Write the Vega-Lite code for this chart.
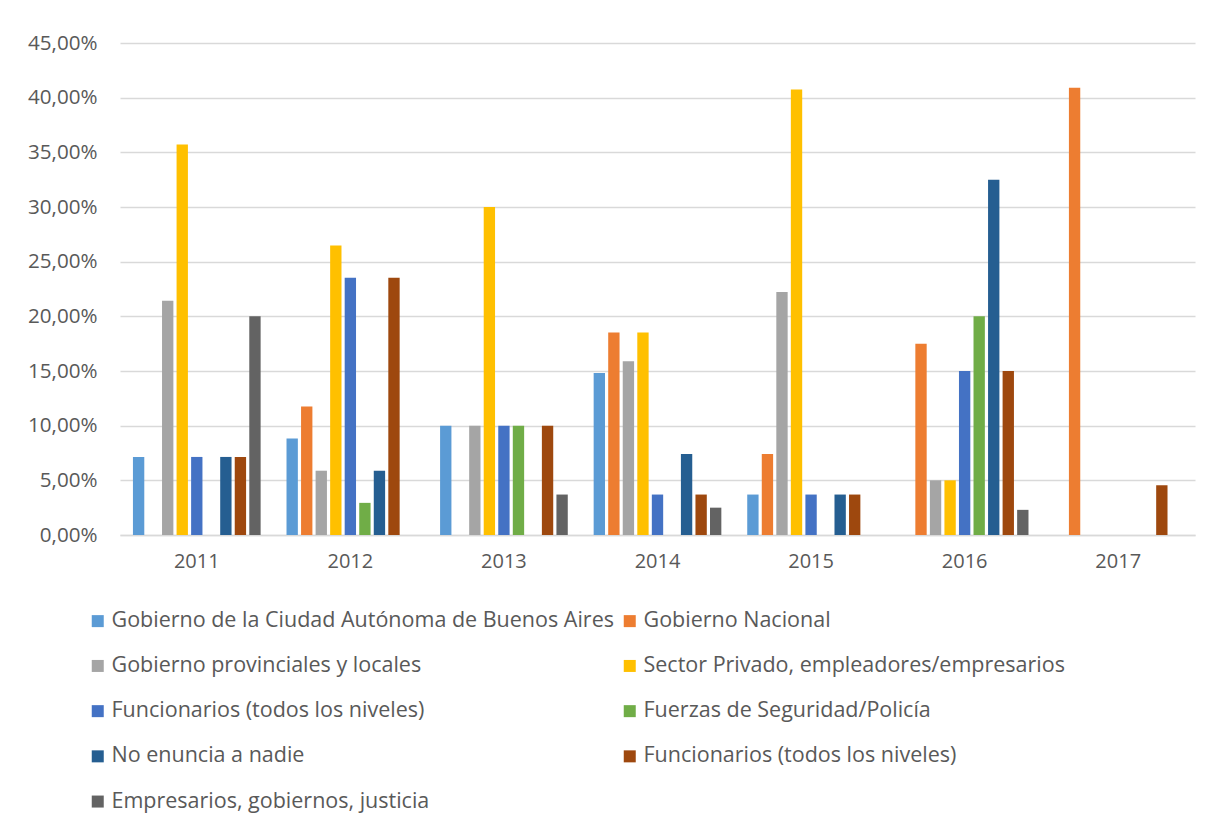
{
  "$schema": "https://vega.github.io/schema/vega-lite/v6.json",
  "width": 1075,
  "height": 492,
  "autosize": {"type": "none"},
  "padding": {"left": 120, "top": 43, "right": 16, "bottom": 291},
  "background": "white",
  "config": {
    "locale": {"number": {"decimal": ",", "thousands": ".", "grouping": [3], "currency": ["$", ""]}},
    "font": "Open Sans",
    "view": {"stroke": null},
    "legend": {"labelColor": "#595959", "labelFont": "Open Sans", "labelFontSize": 21.5}
  },
  "data": {
    "values": [
      {"year": "2011", "k": 1, "serie": "Gobierno de la Ciudad Autónoma de Buenos Aires", "v": 0.0714},
      {"year": "2011", "k": 2, "serie": "Gobierno Nacional", "v": 0},
      {"year": "2011", "k": 3, "serie": "Gobierno provinciales y locales", "v": 0.2143},
      {"year": "2011", "k": 4, "serie": "Sector Privado, empleadores/empresarios", "v": 0.3571},
      {"year": "2011", "k": 5, "serie": "Funcionarios (todos los niveles)", "v": 0.0714},
      {"year": "2011", "k": 6, "serie": "Fuerzas de Seguridad/Policía", "v": 0},
      {"year": "2011", "k": 7, "serie": "No enuncia a nadie", "v": 0.0714},
      {"year": "2011", "k": 8, "serie": "Funcionarios (todos los niveles)", "v": 0.0714},
      {"year": "2011", "k": 9, "serie": "Empresarios, gobiernos, justicia", "v": 0.20},
      {"year": "2012", "k": 1, "serie": "Gobierno de la Ciudad Autónoma de Buenos Aires", "v": 0.0882},
      {"year": "2012", "k": 2, "serie": "Gobierno Nacional", "v": 0.1176},
      {"year": "2012", "k": 3, "serie": "Gobierno provinciales y locales", "v": 0.0588},
      {"year": "2012", "k": 4, "serie": "Sector Privado, empleadores/empresarios", "v": 0.2647},
      {"year": "2012", "k": 5, "serie": "Funcionarios (todos los niveles)", "v": 0.2353},
      {"year": "2012", "k": 6, "serie": "Fuerzas de Seguridad/Policía", "v": 0.0294},
      {"year": "2012", "k": 7, "serie": "No enuncia a nadie", "v": 0.0588},
      {"year": "2012", "k": 8, "serie": "Funcionarios (todos los niveles)", "v": 0.2353},
      {"year": "2012", "k": 9, "serie": "Empresarios, gobiernos, justicia", "v": 0},
      {"year": "2013", "k": 1, "serie": "Gobierno de la Ciudad Autónoma de Buenos Aires", "v": 0.10},
      {"year": "2013", "k": 2, "serie": "Gobierno Nacional", "v": 0},
      {"year": "2013", "k": 3, "serie": "Gobierno provinciales y locales", "v": 0.10},
      {"year": "2013", "k": 4, "serie": "Sector Privado, empleadores/empresarios", "v": 0.30},
      {"year": "2013", "k": 5, "serie": "Funcionarios (todos los niveles)", "v": 0.10},
      {"year": "2013", "k": 6, "serie": "Fuerzas de Seguridad/Policía", "v": 0.10},
      {"year": "2013", "k": 7, "serie": "No enuncia a nadie", "v": 0},
      {"year": "2013", "k": 8, "serie": "Funcionarios (todos los niveles)", "v": 0.10},
      {"year": "2013", "k": 9, "serie": "Empresarios, gobiernos, justicia", "v": 0.037},
      {"year": "2014", "k": 1, "serie": "Gobierno de la Ciudad Autónoma de Buenos Aires", "v": 0.1481},
      {"year": "2014", "k": 2, "serie": "Gobierno Nacional", "v": 0.1852},
      {"year": "2014", "k": 3, "serie": "Gobierno provinciales y locales", "v": 0.159},
      {"year": "2014", "k": 4, "serie": "Sector Privado, empleadores/empresarios", "v": 0.1852},
      {"year": "2014", "k": 5, "serie": "Funcionarios (todos los niveles)", "v": 0.037},
      {"year": "2014", "k": 6, "serie": "Fuerzas de Seguridad/Policía", "v": 0},
      {"year": "2014", "k": 7, "serie": "No enuncia a nadie", "v": 0.0741},
      {"year": "2014", "k": 8, "serie": "Funcionarios (todos los niveles)", "v": 0.037},
      {"year": "2014", "k": 9, "serie": "Empresarios, gobiernos, justicia", "v": 0.025},
      {"year": "2015", "k": 1, "serie": "Gobierno de la Ciudad Autónoma de Buenos Aires", "v": 0.037},
      {"year": "2015", "k": 2, "serie": "Gobierno Nacional", "v": 0.0741},
      {"year": "2015", "k": 3, "serie": "Gobierno provinciales y locales", "v": 0.2222},
      {"year": "2015", "k": 4, "serie": "Sector Privado, empleadores/empresarios", "v": 0.4074},
      {"year": "2015", "k": 5, "serie": "Funcionarios (todos los niveles)", "v": 0.037},
      {"year": "2015", "k": 6, "serie": "Fuerzas de Seguridad/Policía", "v": 0},
      {"year": "2015", "k": 7, "serie": "No enuncia a nadie", "v": 0.037},
      {"year": "2015", "k": 8, "serie": "Funcionarios (todos los niveles)", "v": 0.037},
      {"year": "2015", "k": 9, "serie": "Empresarios, gobiernos, justicia", "v": 0},
      {"year": "2016", "k": 1, "serie": "Gobierno de la Ciudad Autónoma de Buenos Aires", "v": 0},
      {"year": "2016", "k": 2, "serie": "Gobierno Nacional", "v": 0.175},
      {"year": "2016", "k": 3, "serie": "Gobierno provinciales y locales", "v": 0.05},
      {"year": "2016", "k": 4, "serie": "Sector Privado, empleadores/empresarios", "v": 0.05},
      {"year": "2016", "k": 5, "serie": "Funcionarios (todos los niveles)", "v": 0.15},
      {"year": "2016", "k": 6, "serie": "Fuerzas de Seguridad/Policía", "v": 0.20},
      {"year": "2016", "k": 7, "serie": "No enuncia a nadie", "v": 0.325},
      {"year": "2016", "k": 8, "serie": "Funcionarios (todos los niveles)", "v": 0.15},
      {"year": "2016", "k": 9, "serie": "Empresarios, gobiernos, justicia", "v": 0.023},
      {"year": "2017", "k": 1, "serie": "Gobierno de la Ciudad Autónoma de Buenos Aires", "v": 0},
      {"year": "2017", "k": 2, "serie": "Gobierno Nacional", "v": 0.4091},
      {"year": "2017", "k": 3, "serie": "Gobierno provinciales y locales", "v": 0},
      {"year": "2017", "k": 4, "serie": "Sector Privado, empleadores/empresarios", "v": 0},
      {"year": "2017", "k": 5, "serie": "Funcionarios (todos los niveles)", "v": 0},
      {"year": "2017", "k": 6, "serie": "Fuerzas de Seguridad/Policía", "v": 0},
      {"year": "2017", "k": 7, "serie": "No enuncia a nadie", "v": 0},
      {"year": "2017", "k": 8, "serie": "Funcionarios (todos los niveles)", "v": 0.0455},
      {"year": "2017", "k": 9, "serie": "Empresarios, gobiernos, justicia", "v": 0}
    ]
  },
  "mark": {"type": "bar"},
  "encoding": {
    "x": {
      "field": "year", "type": "nominal",
      "scale": {"paddingInner": 0, "paddingOuter": 0},
      "axis": {"title": null, "labelAngle": 0, "ticks": false, "domain": true, "domainColor": "#d9d9d9", "domainWidth": 1.5, "labelPadding": 16, "labelFont": "Open Sans", "labelFontSize": 20, "labelColor": "#595959"}
    },
    "xOffset": {
      "field": "k", "type": "nominal",
      "scale": {"paddingInner": 0.22, "paddingOuter": 0.89}
    },
    "y": {
      "field": "v", "type": "quantitative",
      "scale": {"domain": [0, 0.45], "nice": false},
      "axis": {"title": null, "format": ".2%", "values": [0, 0.05, 0.1, 0.15, 0.2, 0.25, 0.3, 0.35, 0.4, 0.45], "ticks": false, "domain": false, "gridColor": "#d9d9d9", "gridWidth": 1.5, "labelPadding": 23, "labelFont": "Open Sans", "labelFontSize": 20.6, "labelColor": "#595959"}
    },
    "color": {
      "field": "k", "type": "nominal",
      "scale": {"domain": [1, 3, 5, 7, 9, 2, 4, 6, 8], "range": ["#5B9BD5", "#A5A5A5", "#4472C4", "#255E91", "#636363", "#ED7D31", "#FFC000", "#70AD47", "#9E480E"]},
      "legend": {
        "title": null,
        "orient": "none",
        "legendX": -33,
        "legendY": 567,
        "columns": 2,
        "symbolType": "square",
        "symbolSize": 144,
        "symbolStrokeWidth": 0,
        "labelOffset": 3,
        "labelLimit": 700,
        "rowPadding": 22.2,
        "columnPadding": 5,
        "labelExpr": "['Gobierno de la Ciudad Autónoma de Buenos Aires','Gobierno Nacional','Gobierno provinciales y locales','Sector Privado, empleadores/empresarios','Funcionarios (todos los niveles)','Fuerzas de Seguridad/Policía','No enuncia a nadie','Funcionarios (todos los niveles)','Empresarios, gobiernos, justicia'][datum.value - 1]"
      }
    }
  }
}
